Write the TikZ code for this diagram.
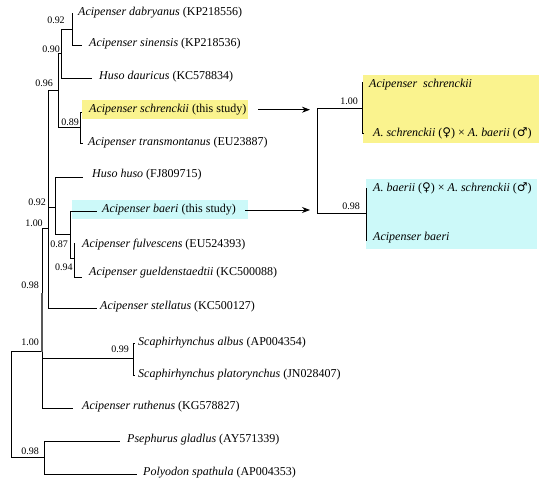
\documentclass[tikz,border=0pt]{standalone}
\usepackage{fontspec}
\setmainfont{Liberation Serif}
\newfontfamily\symf{DejaVu Serif}
\usetikzlibrary{arrows.meta}
\definecolor{hly}{HTML}{FAF38E}
\definecolor{hlc}{HTML}{CCF9F9}
\begin{document}
\begin{tikzpicture}[x=1pt,y=-1pt,
  br/.style={line width=0.8pt, black},
  thickbr/.style={line width=2.6pt, black!65},
  leaf/.style={anchor=west, inner sep=0pt, font=\fontsize{12}{14}\selectfont},
  supv/.style={inner sep=0pt, font=\fontsize{10}{12}\selectfont},
  hl/.style={draw=none, inner sep=0pt, anchor=north west},
  arr/.style={line width=0.9pt, -{Stealth[length=8pt,width=6pt]}}]
\useasboundingbox (0,0) rectangle (550,490);
\newcommand{\fem}{{\symf\char"2640}}
\newcommand{\mal}{{\symf\char"2642}}
% highlight boxes
\node[hl, fill=hly, minimum width=166pt, minimum height=19pt] (hlA) at (82,100) {};
\node[hl, fill=hlc, minimum width=176pt, minimum height=19pt] (hlB) at (72,200) {};
\node[hl, fill=hly, minimum width=176pt, minimum height=68pt] (hlC) at (363,75) {};
\node[hl, fill=hlc, minimum width=171pt, minimum height=70pt] (hlD) at (366,179) {};
% tree nodes
\coordinate (root) at (11,404);
\coordinate (n42) at (42,351);
\coordinate (g1) at (42,293);
\coordinate (g2) at (42,352);
\coordinate (n48) at (48,228);
\coordinate (n58) at (58,90);
\coordinate (n61) at (61,53);
\coordinate (n72) at (72,29);
\coordinate (n80) at (80,127);
\coordinate (n55) at (55,207);
\coordinate (n70) at (70,234);
\coordinate (n74) at (74,258);
\coordinate (nsc) at (133,358);
\coordinate (npad) at (44,457);
% leaf tips
\coordinate (tdab) at (73,13);
\coordinate (tsin) at (82,45);
\coordinate (tdau) at (92,78);
\coordinate (tsch) at (82,112);
\coordinate (ttra) at (83,143);
\coordinate (thus) at (83,177);
\coordinate (tbae) at (97,211);
\coordinate (tful) at (75,243);
\coordinate (tgue) at (82,277);
\coordinate (tste) at (97,308);
\coordinate (talb) at (135,343);
\coordinate (tpla) at (135,375);
\coordinate (trut) at (73,408);
\coordinate (tpse) at (120,441);
\coordinate (tpol) at (137,474);
% edges
\draw[br] (root) |- (n42);
\draw[br] (root) |- (npad);
\draw[br] (n42) |- (n48);
\draw[br] (n42) |- (nsc);
\draw[br] (n42) |- (trut);
\draw[thickbr] (g1) -- (g2);
\draw[br] (n48) |- (n58);
\draw[br] (n48) |- (n55);
\draw[br] (n48) |- (tste);
\draw[br] (n58) |- (n61);
\draw[br] (n58) |- (n80);
\draw[br] (n61) |- (n72);
\draw[br] (n61) |- (tdau);
\draw[br] (n72) |- (tdab);
\draw[br] (n72) |- (tsin);
\draw[br] (n80) |- (tsch);
\draw[br] (n80) |- (ttra);
\draw[br] (n55) |- (thus);
\draw[br] (n55) |- (n70);
\draw[br] (n70) |- (tbae);
\draw[br] (n70) |- (n74);
\draw[br] (n74) |- (tful);
\draw[br] (n74) |- (tgue);
\draw[br] (nsc) |- (talb);
\draw[br] (nsc) |- (tpla);
\draw[br] (npad) |- (tpse);
\draw[br] (npad) |- (tpol);
% leaf labels
\node[leaf] (ldab) at (78,13) {\textit{Acipenser dabryanus} (KP218556)};
\node[leaf] (lsin) at (89,44) {\textit{Acipenser sinensis} (KP218536)};
\node[leaf] (ldau) at (99,77) {\textit{Huso dauricus} (KC578834)};
\node[leaf] (lsch) at (89,110) {\textit{Acipenser schrenckii} (this study)};
\node[leaf] (ltra) at (88,143) {\textit{Acipenser transmontanus} (EU23887)};
\node[leaf] (lhus) at (92,175) {\textit{Huso huso} (FJ809715)};
\node[leaf] (lbae) at (102,210) {\textit{Acipenser baeri} (this study)};
\node[leaf] (lful) at (82,245) {\textit{Acipenser fulvescens} (EU524393)};
\node[leaf] (lgue) at (89,273) {\textit{Acipenser gueldenstaedtii} (KC500088)};
\node[leaf] (lste) at (100,307) {\textit{Acipenser stellatus} (KC500127)};
\node[leaf] (lalb) at (138,343) {\textit{Scaphirhynchus albus} (AP004354)};
\node[leaf] (lpla) at (138,375) {\textit{Scaphirhynchus platorynchus} (JN028407)};
\node[leaf] (lrut) at (82,407) {\textit{Acipenser ruthenus} (KG578827)};
\node[leaf] (lpse) at (127,440) {\textit{Psephurus gladlus} (AY571339)};
\node[leaf] (lpol) at (143,473) {\textit{Polyodon spathula} (AP004353)};
% support values
\node[supv] (s1) at (56,20) {0.92};
\node[supv] (s2) at (51,49) {0.90};
\node[supv] (s3) at (44,83) {0.96};
\node[supv] (s4) at (70,122) {0.89};
\node[supv] (s5) at (37,202) {0.92};
\node[supv] (s6) at (34,223) {1.00};
\node[supv] (s7) at (59,244) {0.87};
\node[supv] (s8) at (64,267) {0.94};
\node[supv] (s9) at (30,285) {0.98};
\node[supv] (s10) at (30,342) {1.00};
\node[supv] (s11) at (120,349) {0.99};
\node[supv] (s12) at (30,451) {0.98};
% right tree
\coordinate (rn) at (317,160);
\coordinate (rA) at (362,108);
\coordinate (rB) at (366,213);
\coordinate (rA1) at (363,82);
\coordinate (rA2) at (364,133);
\coordinate (rB1) at (367,188);
\coordinate (rB2) at (367,240);
\draw[br] (rn) |- (rA);
\draw[br] (rn) |- (rB);
\draw[br] (rA) |- (rA1);
\draw[br] (rA) |- (rA2);
\draw[br] (rB) |- (rB1);
\draw[br] (rB) |- (rB2);
\node[supv] (r1) at (349,101) {1.00};
\node[supv] (r2) at (351,206) {0.98};
\node[leaf] (la1) at (369,85) {\textit{Acipenser\hspace{6pt}schrenckii}};
\node[leaf] (la2) at (373,133) {\textit{A. schrenckii} (\fem) \texttimes{} \textit{A. baerii} (\mal)};
\node[leaf] (lb1) at (373,188) {\textit{A. baerii} (\fem) \texttimes{} \textit{A. schrenckii} (\mal)};
\node[leaf] (lb2) at (373,238) {\textit{Acipenser baeri}};
% arrows
\draw[arr, shorten <=10pt, shorten >=7pt] (hlA.east) -- (hlA.east -| rn);
\draw[arr, shorten <=-1pt, shorten >=7pt] (lbae.east) ++(10,0) -- (lbae.east -| rn);
\end{tikzpicture}
\end{document}
